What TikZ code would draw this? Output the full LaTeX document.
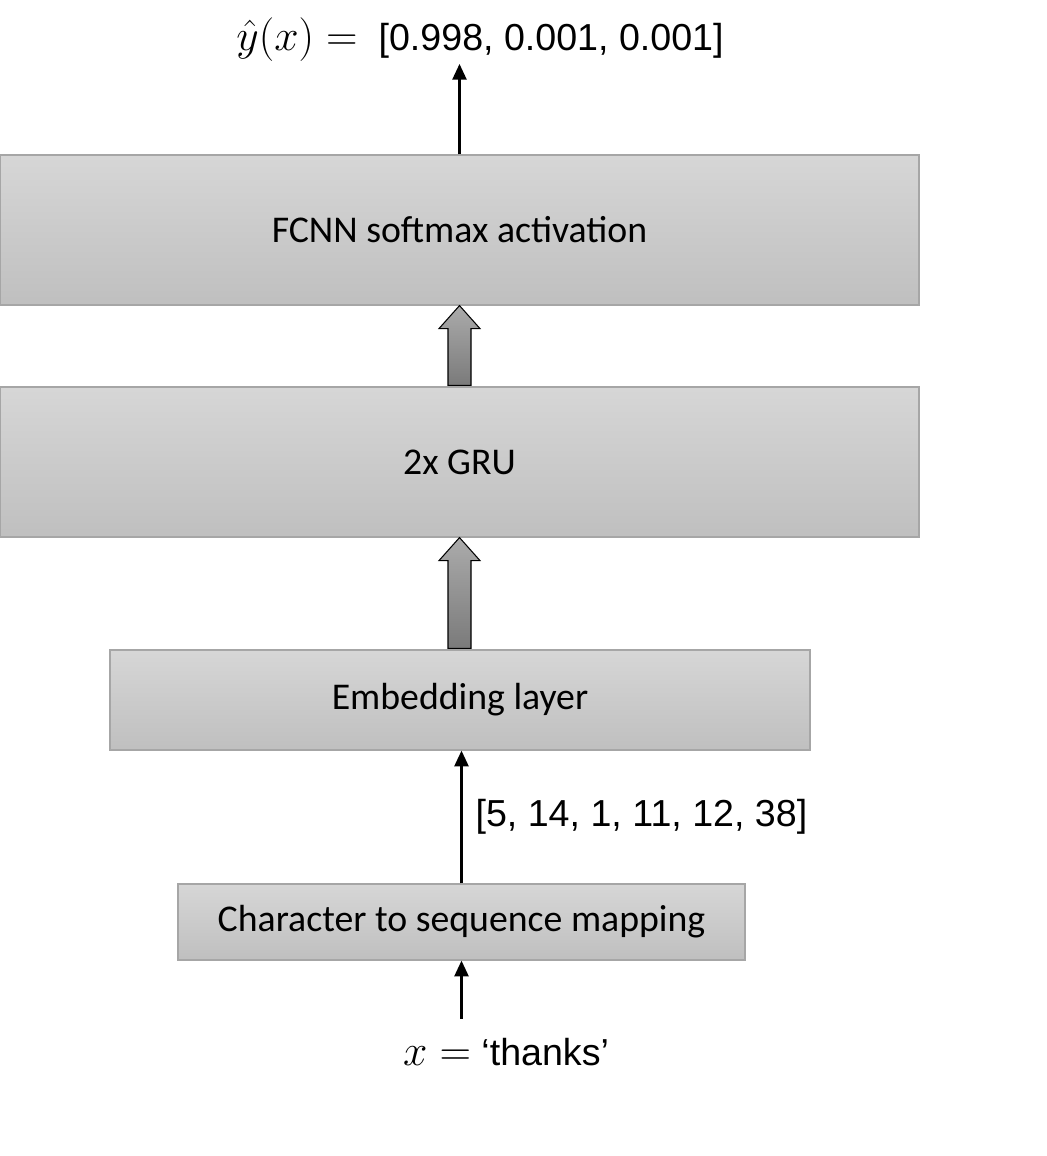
\documentclass[tikz,border=0pt]{standalone}
\usepackage{fontspec}
\setmainfont{Liberation Sans}
\newfontfamily\boxfont{Carlito}
\usetikzlibrary{arrows.meta,calc,positioning}

% wide grey arrow from the top of one layer to the bottom of the next
\newcommand{\layerarrow}[2]{%
  \draw[blockarr] ($(#2.south)+(0,0)$) -- ($(#2.south)+(20.5,-23)$)
    -- ($(#2.south)+(11.5,-23)$) -- ($(#2.south |- #1.north)+(11.5,1)$)
    -- ($(#2.south |- #1.north)+(-11.5,1)$) -- ($(#2.south)+(-11.5,-23)$)
    -- ($(#2.south)+(-20.5,-23)$) -- cycle;}
\newcommand{\bigmath}[1]{{\fontsize{24}{25}\selectfont$#1$}}

\begin{document}
\begin{tikzpicture}[x=0.02cm, y=0.02cm, >={Triangle[width=8pt,length=9pt]},
    font=\fontsize{21.4}{25}\selectfont,
    layer/.style={draw=black!35, line width=0.7pt, top color=black!16,
      bottom color=black!25, inner sep=0pt,
      font=\boxfont\fontsize{21.5}{25}\selectfont},
    blockarr/.style={draw=black, line width=0.6pt, top color=black!33,
      bottom color=black!52},
    link/.style={->, line width=1.4pt}]
  \useasboundingbox (0,0) rectangle (1047,1156);

  % layers
  \node[layer, minimum width=18.38cm, minimum height=3cm] (fcnn) at (459.5,926) {FCNN softmax activation};
  \node[layer, minimum width=18.38cm, minimum height=3cm] (gru) at (459.5,694) {2x GRU};
  \node[layer, minimum width=14cm, minimum height=2cm] (embed) at (460,456) {Embedding layer};
  \node[layer, minimum width=11.34cm, minimum height=1.52cm] (charmap) at (461.5,234) {Character to sequence mapping};

  % input and output
  \node[inner sep=1pt] (out) at (480,1116) {\bigmath{\hat{y}(x) =}\ \ [0.998, 0.001, 0.001]};
  \node[inner sep=1pt] (inp) at (506,104) {\bigmath{x =} `thanks'};

  % connections
  \draw[link] (fcnn.north) -- (fcnn.north |- out.south);
  \layerarrow{gru}{fcnn}
  \layerarrow{embed}{gru}
  \draw[link] (charmap.north) -- (charmap.north |- embed.south)
    node[midway, right=4pt] {[5, 14, 1, 11, 12, 38]};
  \draw[link] ([yshift=10pt]charmap.south |- inp.north) -- (charmap.south);
\end{tikzpicture}
\end{document}
